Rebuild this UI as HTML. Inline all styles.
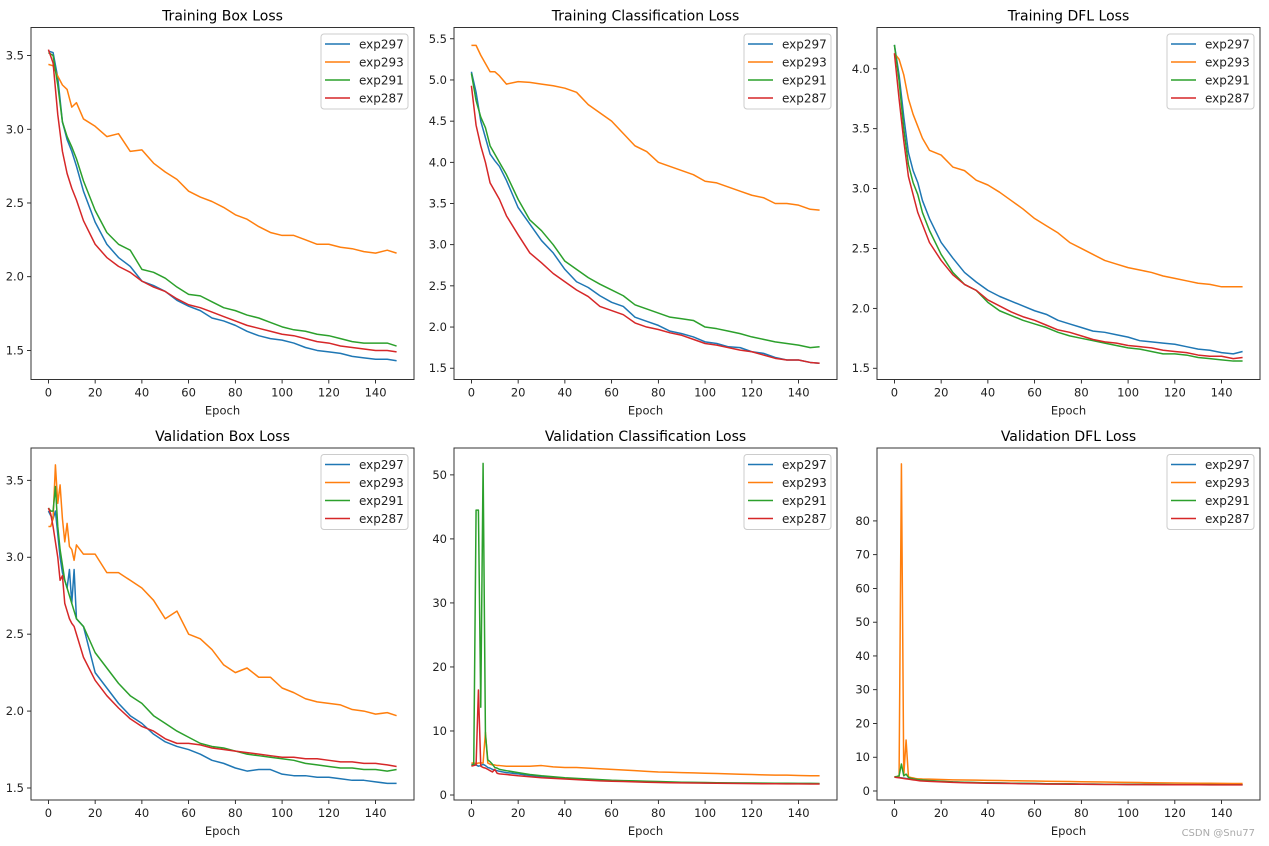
<!DOCTYPE html>
<html><head><meta charset="utf-8">
<style>
body{margin:0;background:#fff;}
svg{display:block;font-family:"DejaVu Sans","Liberation Sans",sans-serif;}
</style></head>
<body>
<svg id="fig" width="1269" height="846" viewBox="0 0 1269 846" xmlns="http://www.w3.org/2000/svg">
<rect width="1269" height="846" fill="#fff"/>
<text x="1255" y="836" font-size="10" fill="#aaa" text-anchor="end">CSDN @Snu77</text>
</svg>
<script>
const seriesNames = ["exp297","exp293","exp291","exp287"];
const seriesColors = ["#1f77b4","#ff7f0e","#2ca02c","#d62728"];
const epochsTrain = [0,2,4,6,8,10,12,15,20,25,30,35,40,45,50,55,60,65,70,75,80,85,90,95,100,105,110,115,120,125,130,135,140,145,149];
const epochsVal = [0,1,2,3,4,5,6,7,8,9,10,11,12,15,20,25,30,35,40,45,50,55,60,65,70,75,80,85,90,95,100,105,110,115,120,125,130,135,140,145,149];

const trainBox297 = [3.53,3.52,3.35,3.05,2.93,2.85,2.75,2.58,2.37,2.22,2.13,2.07,1.97,1.94,1.90,1.84,1.80,1.77,1.72,1.70,1.67,1.63,1.60,1.58,1.57,1.55,1.52,1.50,1.49,1.48,1.46,1.45,1.44,1.44,1.43];
const trainBox293 = [3.44,3.43,3.36,3.30,3.27,3.15,3.18,3.07,3.02,2.95,2.97,2.85,2.86,2.77,2.71,2.66,2.58,2.54,2.51,2.47,2.42,2.39,2.34,2.30,2.28,2.28,2.25,2.22,2.22,2.20,2.19,2.17,2.16,2.18,2.16];
const trainBox291 = [3.52,3.5,3.3,3.05,2.95,2.88,2.8,2.65,2.45,2.30,2.22,2.18,2.05,2.03,1.99,1.93,1.88,1.87,1.83,1.79,1.77,1.74,1.72,1.69,1.66,1.64,1.63,1.61,1.60,1.58,1.56,1.55,1.55,1.55,1.53];
const trainBox287 = [3.54,3.45,3.1,2.85,2.7,2.6,2.52,2.38,2.22,2.13,2.07,2.03,1.97,1.93,1.90,1.85,1.81,1.79,1.76,1.73,1.70,1.67,1.65,1.63,1.61,1.60,1.58,1.56,1.55,1.53,1.52,1.51,1.50,1.50,1.49];

const trainCls297 = [5.1,4.85,4.5,4.3,4.1,4.02,3.95,3.78,3.45,3.25,3.05,2.9,2.7,2.55,2.48,2.38,2.3,2.25,2.12,2.07,2.02,1.95,1.92,1.88,1.82,1.8,1.76,1.75,1.7,1.68,1.63,1.6,1.6,1.57,1.56];
const trainCls293 = [5.42,5.42,5.3,5.2,5.1,5.1,5.05,4.95,4.98,4.97,4.95,4.93,4.9,4.85,4.7,4.6,4.5,4.35,4.2,4.13,4.0,3.95,3.9,3.85,3.77,3.75,3.7,3.65,3.6,3.57,3.5,3.5,3.48,3.43,3.42];
const trainCls291 = [5.08,4.75,4.55,4.42,4.2,4.1,4.0,3.85,3.55,3.3,3.17,3.0,2.8,2.7,2.6,2.52,2.45,2.38,2.27,2.22,2.17,2.12,2.1,2.08,2.0,1.98,1.95,1.92,1.88,1.85,1.82,1.8,1.78,1.75,1.76];
const trainCls287 = [4.93,4.45,4.2,4.0,3.75,3.65,3.55,3.35,3.12,2.9,2.78,2.65,2.55,2.45,2.37,2.25,2.2,2.15,2.05,2.0,1.97,1.93,1.9,1.85,1.8,1.78,1.75,1.72,1.7,1.66,1.62,1.6,1.6,1.57,1.56];

const trainDfl297 = [4.2,3.95,3.6,3.3,3.15,3.05,2.9,2.75,2.55,2.42,2.3,2.22,2.15,2.1,2.06,2.02,1.98,1.95,1.9,1.87,1.84,1.81,1.8,1.78,1.76,1.73,1.72,1.71,1.7,1.68,1.66,1.65,1.63,1.62,1.64];
const trainDfl293 = [4.13,4.08,3.95,3.75,3.62,3.52,3.42,3.32,3.28,3.18,3.15,3.07,3.03,2.97,2.9,2.83,2.75,2.69,2.63,2.55,2.5,2.45,2.4,2.37,2.34,2.32,2.3,2.27,2.25,2.23,2.21,2.2,2.18,2.18,2.18];
const trainDfl291 = [4.2,3.9,3.5,3.2,3.05,2.95,2.8,2.65,2.45,2.3,2.2,2.15,2.05,1.98,1.94,1.9,1.87,1.84,1.8,1.77,1.75,1.73,1.71,1.69,1.67,1.66,1.64,1.62,1.62,1.61,1.59,1.58,1.57,1.56,1.56];
const trainDfl287 = [4.13,3.75,3.4,3.1,2.95,2.8,2.7,2.55,2.4,2.28,2.2,2.15,2.07,2.02,1.97,1.93,1.9,1.86,1.82,1.8,1.77,1.74,1.72,1.71,1.69,1.68,1.67,1.65,1.64,1.63,1.61,1.6,1.6,1.58,1.59];

const valBox297 = [3.3,3.27,3.25,3.3,3.15,3.0,2.9,2.85,2.8,2.92,2.7,2.92,2.6,2.55,2.25,2.15,2.05,1.97,1.92,1.85,1.8,1.77,1.75,1.72,1.68,1.66,1.63,1.61,1.62,1.62,1.59,1.58,1.58,1.57,1.57,1.56,1.55,1.55,1.54,1.53,1.53];
const valBox293 = [3.2,3.2,3.25,3.6,3.35,3.47,3.25,3.1,3.22,3.07,3.05,2.98,3.08,3.02,3.02,2.9,2.9,2.85,2.8,2.72,2.6,2.65,2.5,2.47,2.4,2.3,2.25,2.28,2.22,2.22,2.15,2.12,2.08,2.06,2.05,2.04,2.01,2.0,1.98,1.99,1.97];
const valBox291 = [3.32,3.3,3.3,3.46,3.2,3.05,2.95,2.85,2.8,2.75,2.7,2.65,2.6,2.55,2.38,2.28,2.18,2.1,2.05,1.97,1.92,1.87,1.83,1.79,1.77,1.76,1.74,1.72,1.71,1.7,1.69,1.68,1.66,1.65,1.64,1.63,1.63,1.62,1.62,1.61,1.62];
const valBox287 = [3.32,3.28,3.2,3.1,3.0,2.85,2.88,2.7,2.65,2.6,2.57,2.55,2.5,2.35,2.2,2.1,2.02,1.95,1.9,1.87,1.82,1.79,1.79,1.78,1.76,1.75,1.74,1.73,1.72,1.71,1.7,1.7,1.69,1.69,1.68,1.67,1.67,1.66,1.66,1.65,1.64];

const valCls297 = [4.8,4.8,4.7,4.5,4.6,4.8,4.6,4.3,4.2,4.0,3.9,3.8,3.7,3.5,3.3,3.05,2.9,2.75,2.6,2.5,2.4,2.3,2.25,2.2,2.1,2.05,2.0,1.98,1.95,1.93,1.9,1.88,1.86,1.85,1.83,1.82,1.8,1.8,1.78,1.77,1.76];
const valCls293 = [5.0,5.0,4.9,5.0,5.0,5.0,9.8,5.0,4.8,4.7,4.7,4.6,4.6,4.5,4.5,4.5,4.6,4.4,4.3,4.3,4.2,4.1,4.0,3.9,3.8,3.7,3.6,3.55,3.5,3.45,3.4,3.35,3.3,3.25,3.2,3.15,3.1,3.1,3.05,3.0,3.0];
const valCls291 = [4.6,4.8,44.5,44.5,13.7,51.8,9.5,5.5,5.2,4.8,4.3,4.2,4.0,3.8,3.5,3.2,3.0,2.85,2.7,2.6,2.5,2.4,2.3,2.25,2.2,2.15,2.1,2.05,2.0,1.98,1.95,1.92,1.9,1.88,1.87,1.85,1.84,1.83,1.82,1.81,1.8];
const valCls287 = [4.5,4.6,4.7,16.4,4.5,4.3,4.2,4.0,3.8,3.6,4.0,3.4,3.3,3.2,3.0,2.85,2.7,2.6,2.5,2.4,2.3,2.2,2.15,2.1,2.05,2.0,1.95,1.92,1.9,1.88,1.86,1.84,1.82,1.8,1.78,1.76,1.75,1.74,1.73,1.72,1.72];

const valDfl297 = [4.2,4.1,4.0,3.9,3.8,3.7,3.6,3.5,3.4,3.35,3.3,3.2,3.15,3.0,2.8,2.65,2.55,2.45,2.4,2.35,2.3,2.25,2.2,2.15,2.12,2.1,2.05,2.03,2.0,1.98,1.97,1.95,1.93,1.92,1.9,1.9,1.88,1.87,1.86,1.85,1.85];
const valDfl293 = [4.2,4.2,4.3,96.9,4.5,15.1,4.2,4.0,3.9,3.7,3.6,3.6,3.55,3.5,3.4,3.3,3.25,3.2,3.15,3.1,3.05,3.0,2.95,2.9,2.85,2.8,2.75,2.7,2.65,2.6,2.55,2.5,2.45,2.4,2.35,2.32,2.3,2.28,2.25,2.22,2.2];
const valDfl291 = [4.2,4.3,4.5,8.0,4.5,5.0,4.0,3.8,3.6,3.5,3.4,3.3,3.25,3.1,2.9,2.7,2.6,2.5,2.42,2.35,2.3,2.25,2.2,2.15,2.12,2.1,2.05,2.03,2.0,1.98,1.97,1.95,1.93,1.92,1.9,1.9,1.88,1.87,1.86,1.85,1.85];
const valDfl287 = [4.1,4.0,3.9,3.8,3.7,3.6,3.5,3.4,3.3,3.2,3.1,3.0,2.95,2.85,2.7,2.55,2.45,2.35,2.3,2.25,2.2,2.15,2.1,2.05,2.02,2.0,1.98,1.95,1.93,1.92,1.9,1.88,1.87,1.86,1.85,1.84,1.83,1.82,1.81,1.8,1.8];

const xTicks = [0,20,40,60,80,100,120,140];
const yTicksBox = [1.5,2.0,2.5,3.0,3.5];
const yTicksCls = [1.5,2.0,2.5,3.0,3.5,4.0,4.5,5.0,5.5];
const yTicksDfl = [1.5,2.0,2.5,3.0,3.5,4.0];
const yTicksValCls = [0,10,20,30,40,50];
const yTicksValDfl = [0,10,20,30,40,50,60,70,80];

const panels = [
 {title:"Training Box Loss", name:"training-box-loss", col:0,row:0, x:epochsTrain, s:[trainBox297,trainBox293,trainBox291,trainBox287], yd:[1.303,3.690], yt:yTicksBox, fmt:1},
 {title:"Training Classification Loss", name:"training-classification-loss", col:1,row:0, x:epochsTrain, s:[trainCls297,trainCls293,trainCls291,trainCls287], yd:[1.363,5.637], yt:yTicksCls, fmt:1},
 {title:"Training DFL Loss", name:"training-dfl-loss", col:2,row:0, x:epochsTrain, s:[trainDfl297,trainDfl293,trainDfl291,trainDfl287], yd:[1.406,4.345], yt:yTicksDfl, fmt:1},
 {title:"Validation Box Loss", name:"validation-box-loss", col:0,row:1, x:epochsVal, s:[valBox297,valBox293,valBox291,valBox287], yd:[1.422,3.71], yt:yTicksBox, fmt:1},
 {title:"Validation Classification Loss", name:"validation-classification-loss", col:1,row:1, x:epochsVal, s:[valCls297,valCls293,valCls291,valCls287], yd:[-0.78,54.2], yt:yTicksValCls, fmt:0},
 {title:"Validation DFL Loss", name:"validation-dfl-loss", col:2,row:1, x:epochsVal, s:[valDfl297,valDfl293,valDfl291,valDfl287], yd:[-2.67,101.6], yt:yTicksValDfl, fmt:0}
];

const NS="http://www.w3.org/2000/svg";
const fig=document.getElementById('fig');
function mk(tag,attrs,parent){const e=document.createElementNS(NS,tag);for(const k in attrs)e.setAttribute(k,attrs[k]);(parent||fig).appendChild(e);return e;}
const colLeft=[31,454,877], rowTop=[27.5,448], W=383, H=352;
const xDom=[-7.45,156.45];

panels.forEach(p=>{
  const L=colLeft[p.col], T=rowTop[p.row], R=L+W, B=T+H;
  const g=mk('g',{});
  
  
  const xs=v=>L+(v-xDom[0])/(xDom[1]-xDom[0])*W;
  const ys=v=>B-(v-p.yd[0])/(p.yd[1]-p.yd[0])*H;
  const clipId='clip-'+p.name;
  const cp=mk('clipPath',{id:clipId},g);
  mk('rect',{x:L,y:T,width:W,height:H},cp);
  // title
  const t=mk('text',{x:L+W/2,y:T-7,'font-size':14,'text-anchor':'middle',fill:'#000'},g);
  t.textContent=p.title;
  
  
  // x ticks
  xTicks.forEach(v=>{
    const X=xs(v);
    mk('line',{x1:X,x2:X,y1:B,y2:B+4,stroke:'#000','stroke-width':0.8},g);
    const tt=mk('text',{x:X,y:B+17,'font-size':11.5,'text-anchor':'middle',fill:'#222'},g);
    tt.textContent=v;
    
    
  });
  const xl=mk('text',{x:L+W/2,y:B+35,'font-size':11.5,'text-anchor':'middle',fill:'#222'},g);
  xl.textContent='Epoch';
  
  
  // y ticks
  p.yt.forEach(v=>{
    const Y=ys(v);
    mk('line',{x1:L-4,x2:L,y1:Y,y2:Y,stroke:'#000','stroke-width':0.8},g);
    const tt=mk('text',{x:L-7,y:Y+4,'font-size':11.5,'text-anchor':'end',fill:'#222'},g);
    tt.textContent=p.fmt?v.toFixed(1):String(v);
    
    
  });
  // series
  const sg=mk('g',{'clip-path':'url(#'+clipId+')'},g);
  p.s.forEach((arr,i)=>{
    const d=arr.map((v,j)=>(j?'L':'M')+xs(p.x[j]).toFixed(2)+' '+ys(v).toFixed(2)).join(' ');
    const path=mk('path',{d:d,fill:'none',stroke:seriesColors[i],'stroke-width':1.5,'stroke-linejoin':'round'},sg);
    
    
  });
  // frame
  const fr=mk('rect',{x:L,y:T,width:W,height:H,fill:'none',stroke:'#333','stroke-width':1},g);
  
  
  // legend
  const lg=mk('g',{},g);
  
  
  mk('rect',{x:R-93,y:T+6.5,width:87,height:75,rx:3,fill:'#fff','fill-opacity':0.8,stroke:'#ccc','stroke-width':1},lg);
  seriesNames.forEach((n,i)=>{
    const Y=T+16.5+i*18;
    mk('line',{x1:R-89,x2:R-64,y1:Y,y2:Y,stroke:seriesColors[i],'stroke-width':1.5},lg);
    const lt=mk('text',{x:R-55,y:Y+4.5,'font-size':12,fill:'#222'},lg);
    lt.textContent=n;
    
    
  });
});
</script>
</body></html>
